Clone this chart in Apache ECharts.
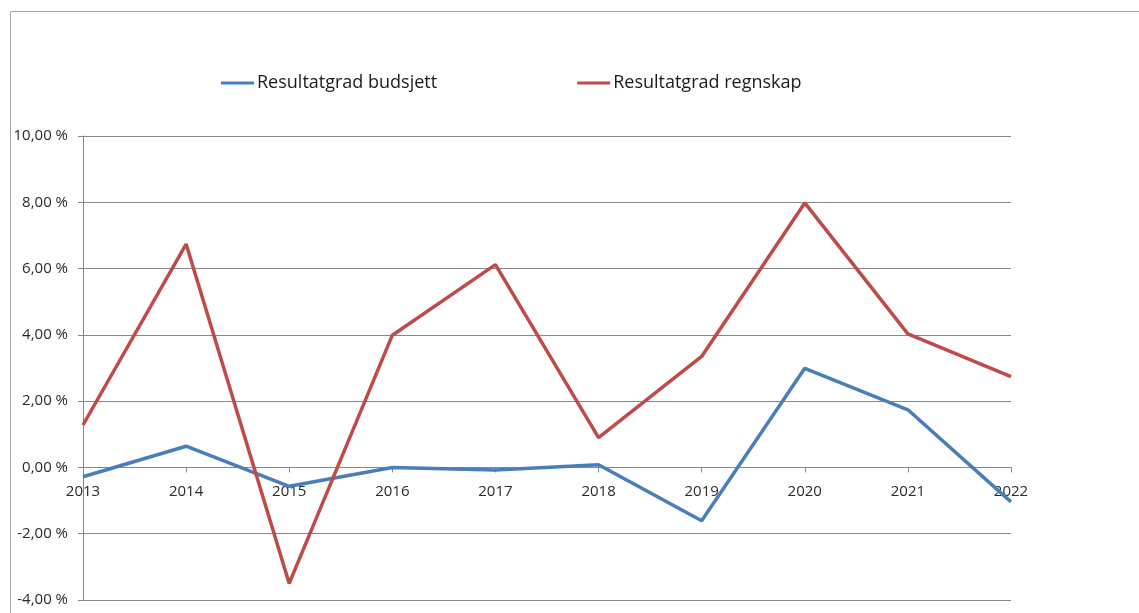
<!DOCTYPE html>
<html>
<head>
<meta charset="utf-8">
<script src="https://cdn.jsdelivr.net/npm/echarts@6/dist/echarts.min.js"></script>
<style>
  html, body { margin: 0; padding: 0; background: #fff; }
  #chart { width: 1139px; height: 613px; }
</style>
</head>
<body>
<div id="chart"></div>
<script>
// Årstall og resultatgrad (prosent)
const years = ['2013', '2014', '2015', '2016', '2017', '2018', '2019', '2020', '2021', '2022'];
const budsjett = [-0.28, 0.64, -0.57, 0.0, -0.08, 0.08, -1.61, 2.99, 1.74, -1.04];
const regnskap = [1.28, 6.74, -3.50, 3.99, 6.12, 0.90, 3.35, 7.98, 4.03, 2.74];
const seriesNames = ['Resultatgrad budsjett', 'Resultatgrad regnskap'];
const yMin = -4, yMax = 10, yStep = 2;

const FONT = '"Open Sans", "Liberation Sans", sans-serif';
const pct = v => v.toFixed(2).replace('.', ',') + ' %';

const W = 1139, H = 613;
const gridBox = { left: 83, right: 128, top: 136, bottom: 13 };
// the category axis sits on the 0 % line
const plotH = H - gridBox.top - gridBox.bottom;
const zeroOffset = -plotH * (0 - yMin) / (yMax - yMin);

const chart = echarts.init(document.getElementById('chart'), null, { renderer: 'canvas' });
chart.setOption({
  animation: false,
  backgroundColor: '#ffffff',
  graphic: [{
    type: 'rect',
    shape: { x: 10.5, y: 11.5, width: 1300, height: 800 },
    style: { fill: 'none', stroke: '#a6a6a6', lineWidth: 1 },
    silent: true,
    z: -1
  }],
  legend: {
    left: 216,
    top: 69,
    icon: 'rect',
    itemWidth: 33,
    itemHeight: 3,
    itemGap: 140,
    textStyle: { fontFamily: FONT, fontSize: 18, color: '#1a1a1a', padding: [0, 0, 0, -2] },
    data: seriesNames
  },
  grid: Object.assign({ containLabel: false, outerBoundsMode: 'none' }, gridBox),
  xAxis: {
    type: 'category',
    data: years,
    boundaryGap: false,
    position: 'bottom',
    offset: zeroOffset,
    z: 1,
    axisLine: { onZero: false, lineStyle: { color: '#878787', width: 1 } },
    axisTick: { show: true, length: 5, lineStyle: { color: '#878787' } },
    axisLabel: { margin: 17, fontFamily: FONT, fontSize: 15, color: '#2a2a2a', interval: 0 },
    splitLine: { show: false }
  },
  yAxis: {
    type: 'value',
    min: yMin,
    max: yMax,
    interval: yStep,
    axisLine: { show: true, lineStyle: { color: '#878787', width: 1 } },
    axisTick: { show: true, length: 5, lineStyle: { color: '#878787' } },
    axisLabel: { formatter: pct, margin: 15, fontFamily: FONT, fontSize: 15, color: '#2a2a2a' },
    splitLine: { show: true, lineStyle: { color: '#878787', width: 1 } }
  },
  series: [
    {
      name: seriesNames[0],
      type: 'line',
      data: budsjett,
      symbol: 'none',
      lineStyle: { color: '#4a7ebb', width: 3.5 },
      itemStyle: { color: '#4a7ebb' },
      z: 2
    },
    {
      name: seriesNames[1],
      type: 'line',
      data: regnskap,
      symbol: 'none',
      lineStyle: { color: '#be4b48', width: 3.5 },
      itemStyle: { color: '#be4b48' },
      z: 3
    }
  ]
});
</script>
</body>
</html>
